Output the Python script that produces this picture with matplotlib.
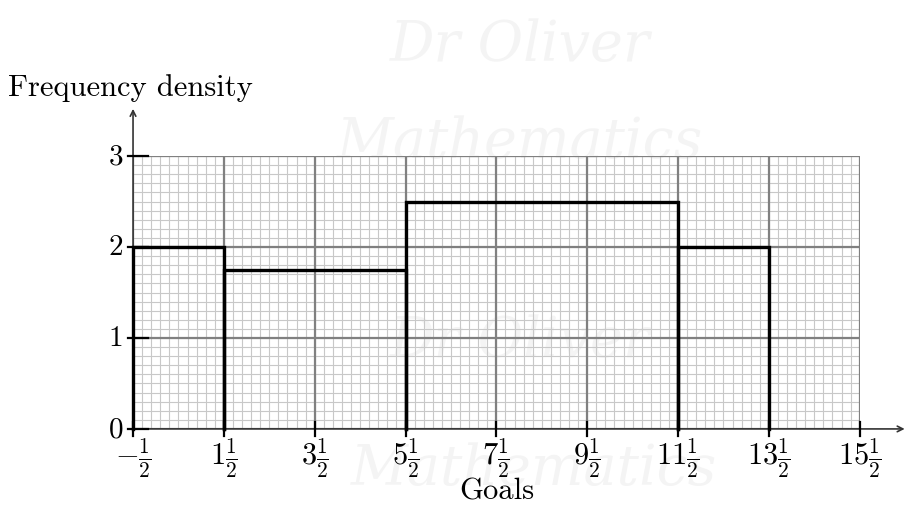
import matplotlib.pyplot as plt

plt.rcParams['mathtext.fontset'] = 'cm'
plt.rcParams['font.family'] = 'serif'
plt.rcParams['font.serif'] = ['cmr10', 'DejaVu Serif']
plt.rcParams['axes.formatter.use_mathtext'] = True

# class boundaries and frequency densities
edges = [-0.5, 1.5, 5.5, 11.5, 13.5]
density = [2, 1.75, 2.5, 2]
xticks = [-0.5, 1.5, 3.5, 5.5, 7.5, 9.5, 11.5, 13.5, 15.5]
xlabels = [r'$-\frac{1}{2}$', r'$1\frac{1}{2}$', r'$3\frac{1}{2}$', r'$5\frac{1}{2}$',
           r'$7\frac{1}{2}$', r'$9\frac{1}{2}$', r'$11\frac{1}{2}$', r'$13\frac{1}{2}$',
           r'$15\frac{1}{2}$']
yticks = [0, 1, 2, 3]

fig = plt.figure(figsize=(9.05, 5.1), dpi=100)
ax = fig.add_axes([0.147, 0.157, 0.803, 0.535])
ax.set_xlim(-0.5, 15.5)
ax.set_ylim(0, 3)
ax.axis('off')

# faint watermark, behind the grid
for tx, ty, s in [(0.575, 0.91, 'Dr Oliver'), (0.575, 0.72, 'Mathematics'),
                  (0.575, 0.33, 'Dr Oliver'), (0.59, 0.08, 'Mathematics')]:
    ax.text(tx, ty, s, color='#f4f4f4', fontsize=40, style='italic',
            family='DejaVu Serif', ha='center', va='center',
            transform=fig.transFigure, zorder=0.5)

# fine grid
x = -0.5
while x < 15.5 + 1e-9:
    ax.axvline(x, color='#c8c8c8', lw=0.8, zorder=1)
    x += 0.2
y = 0
while y < 3 + 1e-9:
    ax.axhline(y, color='#c8c8c8', lw=0.8, zorder=1)
    y += 0.1
for xv in xticks:
    ax.axvline(xv, color='#808080', lw=1.6, zorder=2)
for yv in yticks:
    ax.axhline(yv, color='#808080', lw=1.6, zorder=2)

# axes with arrows
ax.annotate('', xy=(16.55, 0), xytext=(-0.5, 0), annotation_clip=False,
            arrowprops=dict(arrowstyle='->', color='#333333', lw=1.2), zorder=3)
ax.annotate('', xy=(-0.5, 3.55), xytext=(-0.5, 0), annotation_clip=False,
            arrowprops=dict(arrowstyle='->', color='#333333', lw=1.2), zorder=3)

# ticks
for xv, lab in zip(xticks, xlabels):
    ax.plot([xv, xv], [-0.08, 0.08], color='black', lw=1.6, clip_on=False, zorder=4)
    ax.text(xv, -0.07, lab, ha='center', va='top', fontsize=22)
for yv in yticks:
    ax.plot([-0.62, -0.18], [yv, yv], color='black', lw=1.6, clip_on=False, zorder=4)
    ax.text(-0.72, yv, str(yv), ha='right', va='center', fontsize=21)

# histogram
for i in range(len(density)):
    l, r, h = edges[i], edges[i + 1], density[i]
    ax.plot([l, l, r, r], [0, h, h, 0], color='black', lw=2.4, clip_on=False,
            zorder=5, solid_joinstyle='miter')

fig.text(0.009, 0.828, 'Frequency density', fontsize=22, ha='left', va='center')
fig.text(0.549, 0.035, 'Goals', fontsize=22, ha='center', va='center')

fig.savefig('out.png', dpi=100)
